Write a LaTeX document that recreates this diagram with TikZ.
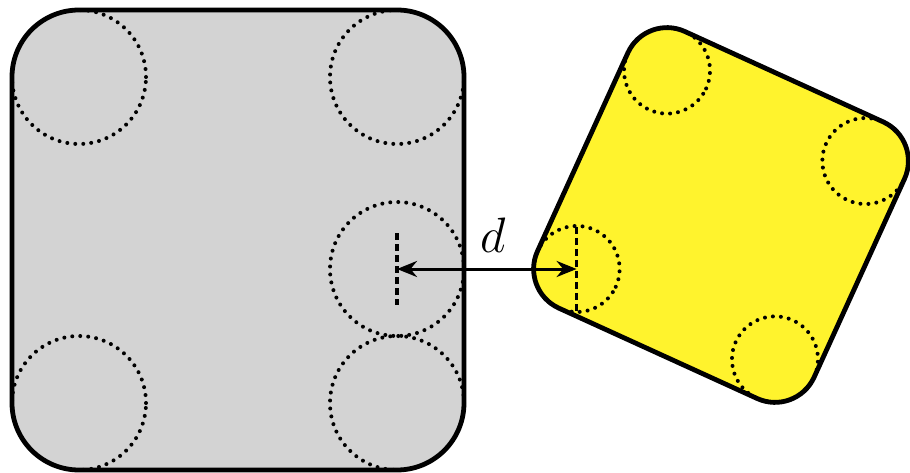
\documentclass[tikz,border=0pt]{standalone}
\usetikzlibrary{arrows.meta}
\definecolor{boxgray}{RGB}{211,211,211}
\definecolor{boxyellow}{RGB}{255,243,45}
\tikzset{
  border/.style={line width=2.4pt, rounded corners=#1},
  dotcircle/.style={line width=2pt, line cap=round, dash pattern=on 0pt off 4pt},
  dashline/.style={line width=1.8pt, dash pattern=on 3.5pt off 2pt},
  distarrow/.style={line width=1.5pt, {Stealth[length=10pt,width=8pt]}-{Stealth[length=10pt,width=8pt]}},
}
\begin{document}
\begin{tikzpicture}[x=0.5pt,y=0.5pt]
\useasboundingbox (0,0) rectangle (910,472);
% gray rounded square
\fill[boxgray, rounded corners=33.5pt] (12,2) rectangle (464,462);
\coordinate (gtl) at (79,395);
\coordinate (gtr) at (397,395);
\coordinate (gbl) at (79,69);
\coordinate (gbr) at (397,69);
\coordinate (gmid) at (397,203);
\foreach \c in {gtl,gtr,gbl,gbr,gmid}
  \draw[dotcircle] (\c) circle[radius=67];
\draw[border=33.5pt] (12,2) rectangle (464,462);
% yellow rotated rounded square
\begin{scope}[shift={(721,257)}, rotate=-24.5]
  \fill[boxyellow, rounded corners=21.5pt] (-152,-152) rectangle (152,152);
  \coordinate (ytl) at (-109,109);
  \coordinate (ytr) at (109,109);
  \coordinate (ybr) at (109,-109);
  \coordinate (ymid) at (-109,-109);
  \foreach \c in {ytl,ytr,ybr,ymid}
    \draw[dotcircle] (\c) circle[radius=43];
  \draw[border=21.5pt] (-152,-152) rectangle (152,152);
\end{scope}
% dashed markers
\draw[dashline] ([yshift=18pt]gmid) -- ([yshift=-18pt]gmid);
\draw[dashline] ([yshift=21pt]ymid) -- ([yshift=-21pt]ymid);
% distance arrow
\draw[distarrow] (gmid) -- (gmid -| ymid);
\node[anchor=base, inner sep=0pt, font=\fontsize{30}{32}\selectfont] (dlabel) at (493,220) {$d$};
\end{tikzpicture}
\end{document}
